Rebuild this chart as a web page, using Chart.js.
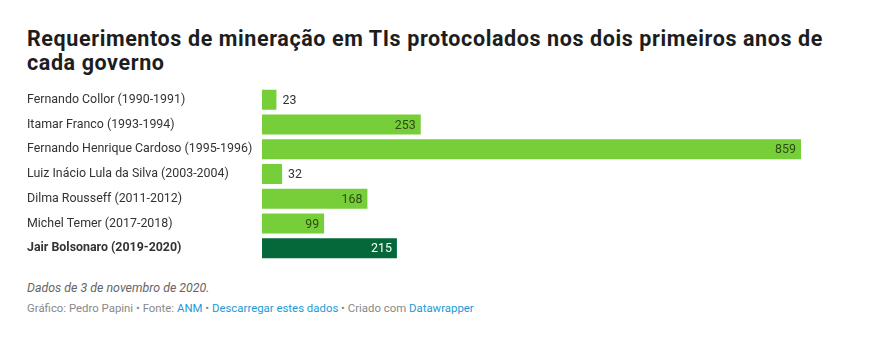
<!DOCTYPE html>
<html><head><meta charset="utf-8">
<script src="https://cdn.jsdelivr.net/npm/chart.js@4"></script>
<style>
html,body{margin:0;padding:0;background:#fff;width:869px;height:340px;overflow:hidden;font-family:Roboto,sans-serif;}
#title{position:absolute;left:27px;top:27px;width:840px;font-size:21.5px;font-weight:700;line-height:23.5px;color:#1d1d1d;letter-spacing:0.6px;white-space:nowrap;}
#wrap{position:absolute;left:27px;top:80px;width:774px;height:188px;}
#notes{position:absolute;left:27px;top:280px;font-size:12.4px;font-style:italic;color:#666;}
#source{position:absolute;left:27px;top:301px;font-size:11.4px;color:#888;}
#source a{color:#1d9ad6;text-decoration:none;}
</style></head>
<body>
<div id="title">Requerimentos de mineração em TIs protocolados nos dois primeiros anos de<br>cada governo</div>
<div id="wrap"><canvas id="c"></canvas></div>
<div id="notes">Dados de 3 de novembro de 2020.</div>
<div id="source">Gráfico: Pedro Papini • Fonte: <a>ANM</a> • <a>Descarregar estes dados</a> • Criado com <a>Datawrapper</a></div>
<script>
const categories = ["Fernando Collor (1990-1991)","Itamar Franco (1993-1994)","Fernando Henrique Cardoso (1995-1996)","Luiz Inácio Lula da Silva (2003-2004)","Dilma Rousseff (2011-2012)","Michel Temer (2017-2018)","Jair Bolsonaro (2019-2020)"];
const values = [23,253,859,32,168,99,215];
const highlighted = [false,false,false,false,false,false,true];

const LIGHT = '#76cf38', DARK = '#05683a';

const valueLabels = {
  id:'valueLabels',
  afterDatasetsDraw(chart){
    const ctx = chart.ctx;
    const meta = chart.getDatasetMeta(0);
    ctx.save();
    ctx.font = '12.4px Roboto';
    ctx.textBaseline = 'middle';
    meta.data.forEach((bar,i)=>{
      const txt = String(values[i]);
      const w = ctx.measureText(txt).width;
      const barW = bar.x - bar.base;
      if (barW > w + 12) {
        ctx.textAlign = 'right';
        ctx.fillStyle = highlighted[i] ? '#ffffff' : '#2f4a18';
        ctx.fillText(txt, bar.x - 5, bar.y + 1);
      } else {
        ctx.textAlign = 'left';
        ctx.fillStyle = '#333';
        ctx.fillText(txt, bar.x + 6, bar.y + 1);
      }
    });
    ctx.restore();
  }
};

new Chart(document.getElementById('c'), {
  type:'bar',
  data:{labels:categories, datasets:[{data:values, backgroundColor:values.map((v,i)=>highlighted[i]?DARK:LIGHT), borderWidth:0, barPercentage:0.81, categoryPercentage:1}]},
  options:{
    indexAxis:'y', responsive:true, maintainAspectRatio:false, animation:false,
    layout:{padding:0},
    plugins:{legend:{display:false}, tooltip:{enabled:false}},
    scales:{
      x:{display:false, min:0, max:859},
      y:{
        grid:{display:false, drawTicks:false}, border:{display:false},
        afterFit(s){ s.width = 235; },
        ticks:{crossAlign:'far', padding:0, color:'#333',
          font:(c)=>({family:'Roboto', size:12.4, weight: highlighted[c.index]?'bold':'normal'})}
      }
    }
  },
  plugins:[valueLabels]
});
</script>
</body></html>
